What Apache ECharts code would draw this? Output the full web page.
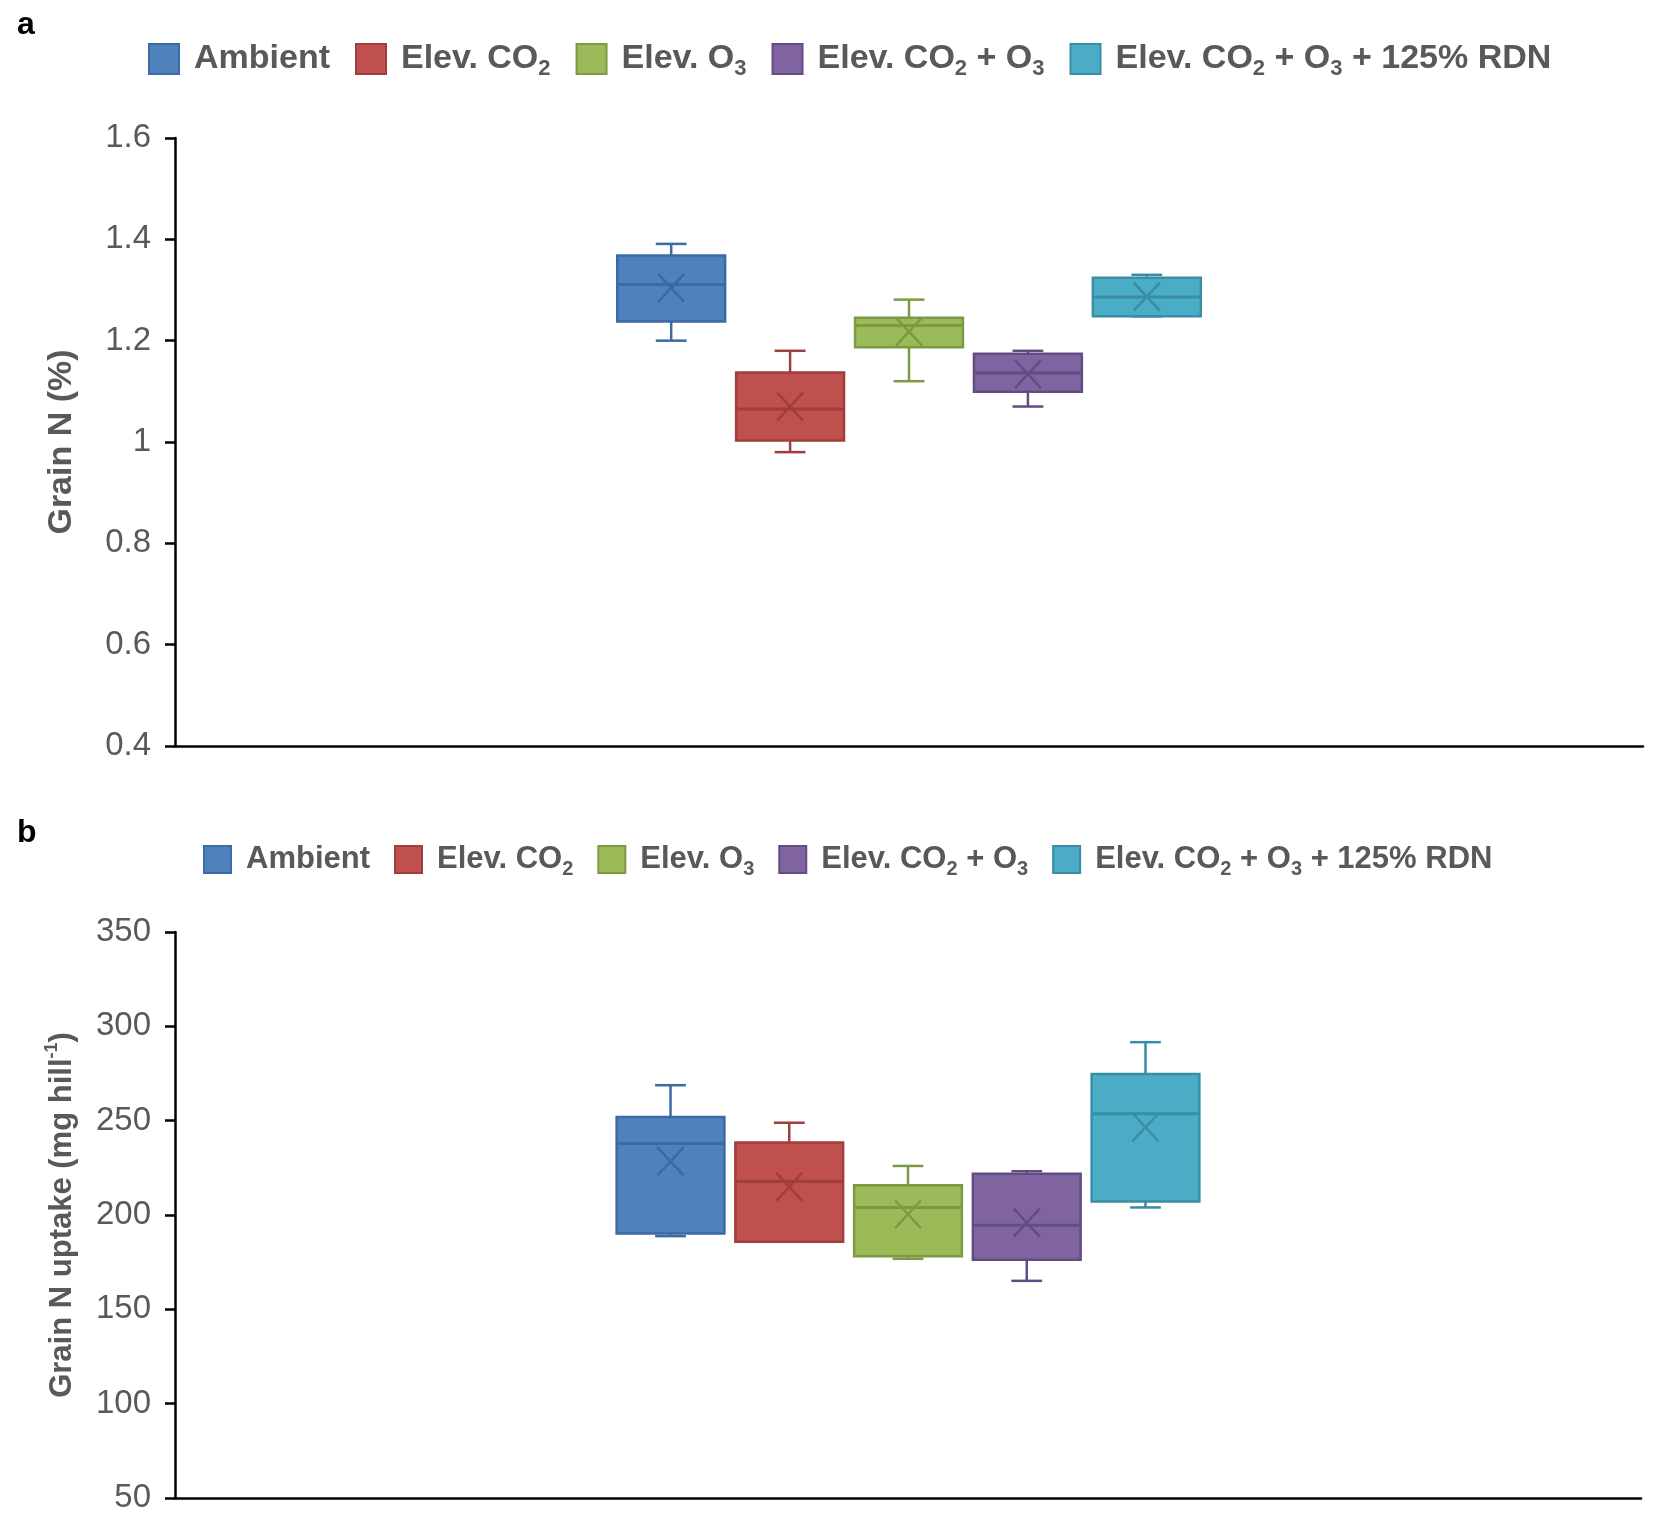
<!DOCTYPE html>
<html style="height: 100%">
<head>
<meta charset="utf-8">
<title>Grain N and grain N uptake</title>
<script src="https://cdn.jsdelivr.net/npm/echarts@6/dist/echarts.min.js"></script>
</head>
<body style="margin: 0; background: #fff;">
<div id="container" style="width: 1654px; height: 1520px;"></div>
<script type="text/javascript">
// treatments (legend order)
var groups = ['Ambient', 'Elev. CO2', 'Elev. O3', 'Elev. CO2 + O3', 'Elev. CO2 + O3 + 125% RDN'];
var fillColors = ['#4F81BD', '#C0504D', '#9BBB59', '#8064A2', '#4BACC6'];
var lineColors = ['#3C6AA2', '#A03E3B', '#7B9A43', '#634C84', '#3A8DA4'];

// panel a : grain N (%)
var nMin    = [1.200, 0.980, 1.120, 1.070, 1.248];
var nQ1     = [1.238, 1.003, 1.187, 1.099, 1.248];
var nMedian = [1.311, 1.065, 1.230, 1.136, 1.286];
var nQ3     = [1.368, 1.137, 1.245, 1.174, 1.324];
var nMax    = [1.391, 1.180, 1.281, 1.180, 1.330];
var nMean   = [1.304, 1.070, 1.218, 1.134, 1.287];
var nAxis   = {min: 0.4, max: 1.6, interval: 0.2};

// panel b : grain N uptake (mg hill-1)
var uMin    = [188.8, 185.8, 176.8, 165.1, 204.0];
var uQ1     = [190.2, 185.8, 178.2, 176.3, 207.2];
var uMedian = [237.9, 217.7, 204.0, 194.6, 253.7];
var uQ3     = [251.9, 238.4, 215.8, 221.9, 274.7];
var uMax    = [268.8, 248.9, 226.0, 223.2, 291.6];
var uMean   = [228.4, 214.9, 200.4, 196.0, 246.5];
var uAxis   = {min: 50, max: 350, interval: 50};

var FONT = "'Liberation Sans', Arial, Helvetica, sans-serif";
var GREY = '#595959';
// box layout as fractions of the category band
var BOX_STEP = 0.081, BOX_W = 0.0735, CAP_W = 0.021;

function makeRender(idx) {
    return function (params, api) {
        var band = api.size([1, 0])[0];
        var cat = api.value(0);
        var cx = api.coord([cat, api.value(3)])[0] + (idx - 2) * band * BOX_STEP;
        var w = band * BOX_W, cap = band * CAP_W;
        function y(dim) { return api.coord([cat, api.value(dim)])[1]; }
        var yMin = y(1), yQ1 = y(2), yMed = y(3), yQ3 = y(4), yMax = y(5), yMean = y(6);
        var ls = {stroke: lineColors[idx], lineWidth: 2.5, fill: null};
        var mx = 13, my = 14;
        return {
            type: 'group',
            children: [
                {type: 'line', shape: {x1: cx, y1: yQ1, x2: cx, y2: yMin}, style: ls},
                {type: 'line', shape: {x1: cx, y1: yQ3, x2: cx, y2: yMax}, style: ls},
                {type: 'line', shape: {x1: cx - cap / 2, y1: yMin, x2: cx + cap / 2, y2: yMin}, style: ls},
                {type: 'line', shape: {x1: cx - cap / 2, y1: yMax, x2: cx + cap / 2, y2: yMax}, style: ls},
                {type: 'rect', shape: {x: cx - w / 2, y: yQ3, width: w, height: Math.max(yQ1 - yQ3, 1)},
                    style: {fill: fillColors[idx], stroke: lineColors[idx], lineWidth: 2.5}},
                {type: 'line', shape: {x1: cx - w / 2, y1: yMed, x2: cx + w / 2, y2: yMed}, style: {stroke: lineColors[idx], lineWidth: 3}},
                {type: 'line', shape: {x1: cx - mx, y1: yMean - my, x2: cx + mx, y2: yMean + my}, style: ls},
                {type: 'line', shape: {x1: cx - mx, y1: yMean + my, x2: cx + mx, y2: yMean - my}, style: ls}
            ]
        };
    };
}

function buildSeries(panel, mins, q1s, meds, q3s, maxs, means) {
    var out = [];
    for (var i = 0; i < groups.length; i++) {
        out.push({
            name: groups[i],
            type: 'custom',
            xAxisIndex: panel,
            yAxisIndex: panel,
            renderItem: makeRender(i),
            itemStyle: {color: fillColors[i], borderColor: lineColors[i], borderWidth: 2},
            encode: {x: 0, y: [1, 2, 3, 4, 5, 6]},
            data: [[0, mins[i], q1s[i], meds[i], q3s[i], maxs[i], means[i]]]
        });
    }
    return out;
}

function subName(name) {
    return name.replace(/CO2/g, 'CO{s|2}').replace(/O3/g, 'O{s|3}');
}

function legendCfg(top, left, size, icon, gap) {
    return {
        top: top,
        left: left,
        data: groups,
        icon: 'rect',
        itemWidth: icon,
        itemHeight: icon,
        itemGap: gap,
        formatter: subName,
        textStyle: {
            fontFamily: FONT, fontWeight: 'bold', fontSize: size, color: GREY, lineHeight: size + 8,
            padding: [0, 0, 0, 10],
            rich: {
                s: {fontFamily: FONT, fontWeight: 'bold', fontSize: Math.round(size * 0.65), color: GREY,
                    lineHeight: Math.round(size * 0.65), verticalAlign: 'bottom'}
            }
        }
    };
}

function yAxisCfg(grid, range, name, gap, nameSize) {
    return {
        type: 'value',
        gridIndex: grid,
        min: range.min, max: range.max, interval: range.interval,
        name: name,
        nameLocation: 'middle',
        nameGap: gap,
        nameTextStyle: {
            fontFamily: FONT, fontWeight: 'bold', fontSize: nameSize, color: GREY, lineHeight: nameSize + 7,
            rich: {
                sup: {fontFamily: FONT, fontWeight: 'bold', fontSize: 18, color: GREY, lineHeight: 18, verticalAlign: 'top'}
            }
        },
        axisLine: {show: true, lineStyle: {color: '#000', width: 2.5}},
        axisTick: {show: true, length: 10, lineStyle: {color: '#000', width: 2.5}},
        axisLabel: {fontFamily: FONT, fontSize: 33, color: GREY, margin: 24},
        splitLine: {show: false}
    };
}

function xAxisCfg(grid) {
    return {
        type: 'category',
        gridIndex: grid,
        data: [''],
        axisLine: {show: true, lineStyle: {color: '#000', width: 2.5}},
        axisTick: {show: false},
        axisLabel: {show: false},
        splitLine: {show: false}
    };
}

var dom = document.getElementById('container');
var myChart = echarts.init(dom);
var option = {
    backgroundColor: '#fff',
    animation: false,
    title: [
        {text: 'a', left: 12, top: 4, textStyle: {fontFamily: FONT, fontWeight: 'bold', fontSize: 32, color: '#000'}},
        {text: 'b', left: 12, top: 812, textStyle: {fontFamily: FONT, fontWeight: 'bold', fontSize: 32, color: '#000'}}
    ],
    legend: [
        legendCfg(33, 143, 34, 30, 25),
        legendCfg(835, 198, 31, 27, 24)
    ],
    grid: [
        {left: 175, right: 11, top: 138, height: 608},
        {left: 175, right: 13, top: 932, height: 566}
    ],
    xAxis: [xAxisCfg(0), xAxisCfg(1)],
    yAxis: [
        yAxisCfg(0, nAxis, 'Grain N (%)', 93, 34),
        yAxisCfg(1, uAxis, 'Grain N uptake (mg hill{sup|-1})', 94, 31)
    ],
    series: buildSeries(0, nMin, nQ1, nMedian, nQ3, nMax, nMean)
        .concat(buildSeries(1, uMin, uQ1, uMedian, uQ3, uMax, uMean))
};
if (option && typeof option === 'object') {
    myChart.setOption(option, true);
}
</script>
</body>
</html>
